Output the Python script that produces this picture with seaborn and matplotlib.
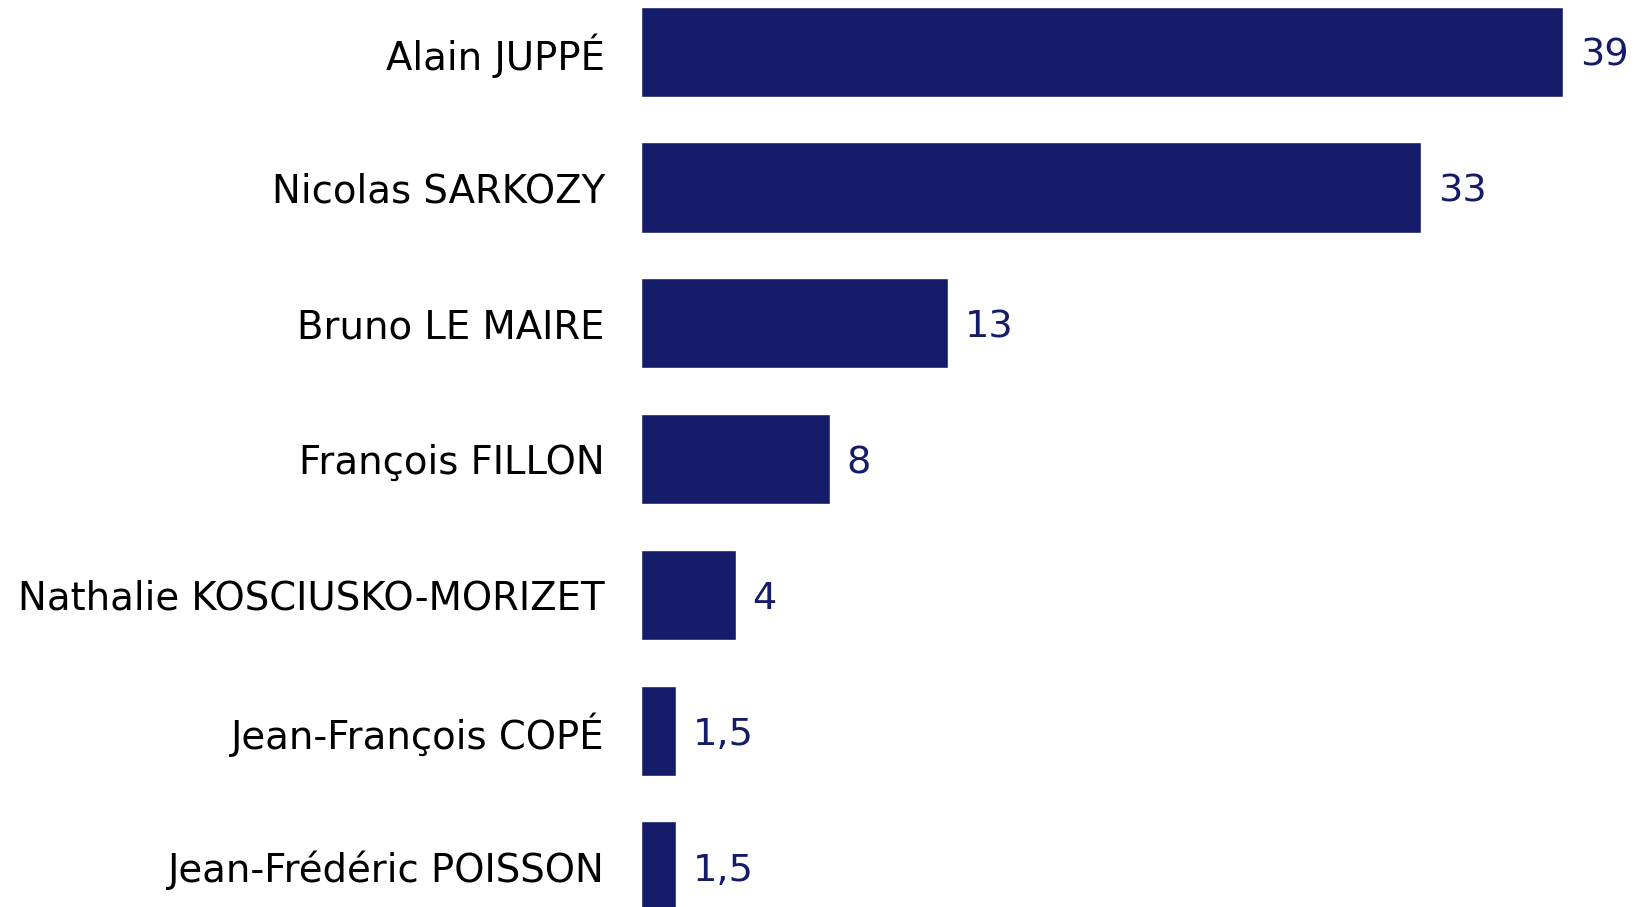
import matplotlib
matplotlib.use("Agg")
import matplotlib.pyplot as plt
import seaborn as sns
import pandas as pd

candidates = ["Alain JUPPÉ", "Nicolas SARKOZY", "Bruno LE MAIRE", "François FILLON",
              "Nathalie KOSCIUSKO-MORIZET", "Jean-François COPÉ", "Jean-Frédéric POISSON"]
values = [39, 33, 13, 8, 4, 1.5, 1.5]
value_labels = ["39", "33", "13", "8", "4", "1,5", "1,5"]

sns.set_theme(style="white")
plt.rcParams['font.family'] = ['DejaVu Sans']

W, H = 1645, 907
fig = plt.figure(figsize=(W/100, H/100), dpi=100)
left = 641 / W
ax = fig.add_axes([left, 0, 1 - left, 1])

df = pd.DataFrame({"candidate": candidates, "value": values})
bar_color = "#141c6a"
sns.barplot(data=df, y="candidate", x="value", orient="h", color=bar_color,
            width=0.663, saturation=1, ax=ax)

px_per_unit = 23.64
ax.set_xlim(0, (W - 641) / px_per_unit)
step = 135.8
top = -51.7 / step
ax.set_ylim(top + H / step, top)

texts = ax.bar_label(ax.containers[0], labels=value_labels, padding=12, fontsize=27.5,
                     color=bar_color)
for t in texts:
    t.xyann = (12, -3.0)

ax.tick_params(axis="y", length=0, pad=26, labelsize=27.8, labelcolor="black")
ax.set_xticks([])
ax.set_xlabel("")
ax.set_ylabel("")
for s in ax.spines.values():
    s.set_visible(False)

fig.savefig("out.png", dpi=100)
